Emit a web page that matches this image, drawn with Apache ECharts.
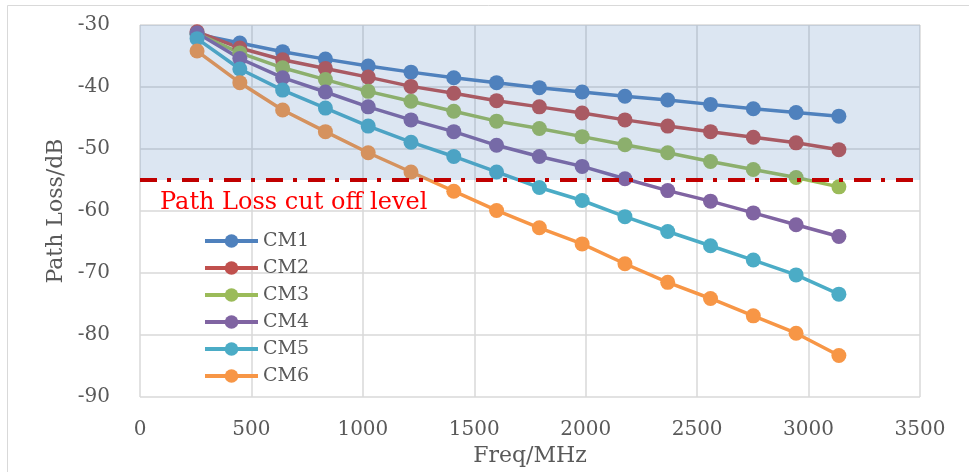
<!DOCTYPE html>
<html>
<head>
<meta charset="utf-8">
<script src="https://cdn.jsdelivr.net/npm/echarts@6/dist/echarts.min.js"></script>
<style>html,body{margin:0;padding:0;background:#fff;}#c{width:969px;height:472px;}</style>
</head>
<body>
<div id="c"></div>
<script>
var freq = [256, 448, 640, 832, 1024, 1216, 1408, 1600, 1792, 1984, 2176, 2368, 2560, 2752, 2944, 3136];
var CM1 = [-31.5, -32.9, -34.3, -35.5, -36.6, -37.6, -38.5, -39.3, -40.1, -40.8, -41.5, -42.1, -42.8, -43.5, -44.1, -44.7];
var CM2 = [-31.1, -33.7, -35.6, -37.0, -38.4, -39.9, -41.0, -42.2, -43.2, -44.2, -45.3, -46.3, -47.2, -48.1, -49.0, -50.1];
var CM3 = [-31.4, -34.5, -36.9, -38.8, -40.7, -42.3, -43.9, -45.5, -46.7, -48.0, -49.3, -50.6, -52.0, -53.3, -54.6, -56.1];
var CM4 = [-31.3, -35.4, -38.5, -40.8, -43.2, -45.3, -47.2, -49.4, -51.2, -52.8, -54.8, -56.7, -58.4, -60.3, -62.2, -64.1];
var CM5 = [-32.2, -37.1, -40.5, -43.4, -46.3, -48.9, -51.2, -53.7, -56.2, -58.3, -60.9, -63.3, -65.6, -67.9, -70.3, -73.4];
var CM6 = [-34.2, -39.3, -43.7, -47.2, -50.6, -53.7, -56.8, -59.9, -62.7, -65.3, -68.5, -71.5, -74.1, -76.9, -79.7, -83.3];
var seriesNames = ['CM1', 'CM2', 'CM3', 'CM4', 'CM5', 'CM6'];
var seriesValues = [CM1, CM2, CM3, CM4, CM5, CM6];
var colors = ['#4F81BD', '#C0504D', '#9BBB59', '#8064A2', '#4BACC6', '#F79646'];
var cutOffLevel = -55;
var cutOffText = 'Path Loss cut off level';

var FONT = '"DejaVu Serif", "Liberation Serif", serif';
var chart = echarts.init(document.getElementById('c'), null, {renderer: 'canvas'});

var series = seriesNames.map(function (n, i) {
  return {
    name: n,
    type: 'line',
    data: freq.map(function (f, j) { return [f, seriesValues[i][j]]; }),
    symbol: 'circle',
    symbolSize: 15,
    lineStyle: {width: 3.5, color: colors[i]},
    itemStyle: {color: colors[i]},
    emphasis: {disabled: true},
    z: 2
  };
});
series.push({
  name: 'overlay',
  type: 'line',
  data: [],
  silent: true,
  markArea: {
    silent: true,
    z: 10,
    itemStyle: {color: 'rgba(79,129,189,0.2)'},
    data: [[{coord: [0, -30]}, {coord: [3500, cutOffLevel]}]]
  },
  markLine: {
    silent: true,
    z: 11,
    symbol: ['none', 'none'],
    label: {show: false},
    lineStyle: {color: '#C00000', width: 4, type: [17, 10, 4, 11], opacity: 1},
    data: [[{coord: [0, cutOffLevel]}, {coord: [3500, cutOffLevel]}]]
  }
});

var option = {
  animation: false,
  backgroundColor: '#ffffff',
  grid: {left: 140, top: 25, right: 49, bottom: 72},
  xAxis: {
    type: 'value', min: 0, max: 3500, interval: 500,
    name: 'Freq/MHz', nameLocation: 'middle', nameGap: 47,
    nameTextStyle: {color: '#595959', fontFamily: FONT, fontSize: 22},
    axisLine: {show: false}, axisTick: {show: false},
    axisLabel: {color: '#595959', fontFamily: FONT, fontSize: 20, margin: 23,
      formatter: function (v) { return String(v); }},
    splitLine: {show: true, lineStyle: {color: '#D9D9D9', width: 1.5}}
  },
  yAxis: {
    type: 'value', min: -90, max: -30, interval: 10,
    name: 'Path Loss/dB', nameLocation: 'middle', nameGap: 73,
    nameTextStyle: {color: '#595959', fontFamily: FONT, fontSize: 22},
    axisLine: {show: false}, axisTick: {show: false},
    axisLabel: {color: '#595959', fontFamily: FONT, fontSize: 20, margin: 30},
    splitLine: {show: true, lineStyle: {color: '#D9D9D9', width: 1.5}}
  },
  legend: {
    data: seriesNames,
    orient: 'vertical', left: 198, top: 225,
    itemWidth: 53, itemHeight: 17, itemGap: 5,
    lineStyle: {width: 4},
    textStyle: {color: '#595959', fontFamily: FONT, fontSize: 19, lineHeight: 22},
    selectedMode: false
  },
  graphic: [
    {type: 'rect', silent: true, shape: {x: 7.5, y: 5.5, width: 990, height: 490}, style: {fill: 'none', stroke: '#D9D9D9', lineWidth: 1}},
    {type: 'text', left: 160, top: 191, z: 20, silent: true,
     style: {text: cutOffText, fill: '#FF0000', font: '24px ' + FONT}}
  ],
  series: series
};
chart.setOption(option);
</script>
</body>
</html>
